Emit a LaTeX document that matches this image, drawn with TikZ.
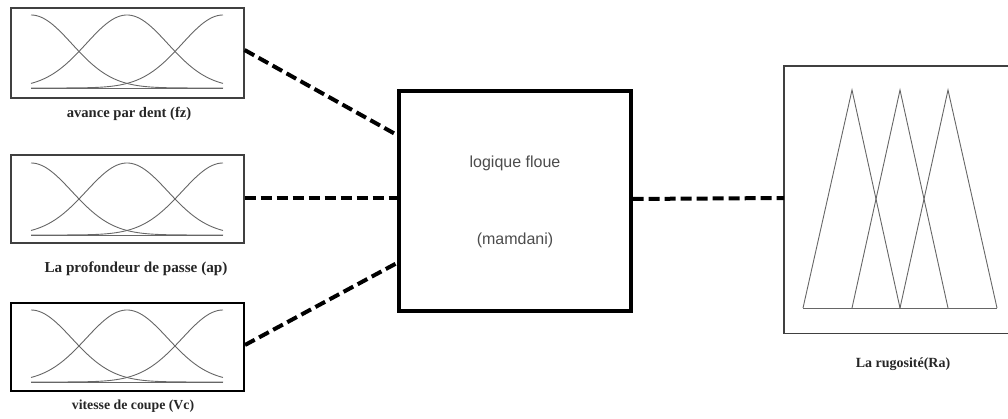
\documentclass[tikz,border=0pt]{standalone}
\usepackage{fontspec}
\setmainfont{Liberation Serif}
\setsansfont{Liberation Sans}
\usetikzlibrary{calc}

\tikzset{
  mfbox/.style={draw=black!75, line width=1.6pt, anchor=north west, inner sep=0pt},
  corebox/.style={draw=black, line width=3.6pt, anchor=north west, inner sep=0pt},
  mfcurve/.style={draw=black!60, line width=0.9pt},
  frameline/.style={draw=black!75, line width=1.6pt},
  link/.style={draw=black, line width=4pt, dash pattern=on 11pt off 5pt},
  caption/.style={font=\bfseries, text=black!85},
  coretext/.style={font=\sffamily\fontsize{16}{18}\selectfont, text=black!70}
}

% three gaussian membership functions inside a box: top y, baseline y
\newcommand{\gaussset}[2]{%
  \draw[mfcurve] (31,#2) -- (223,#2);
  \foreach \c in {31,127,223}{
    \draw[mfcurve] plot[smooth, domain=31:223, samples=70]
      (\x, {#2 - (#2-#1)*exp(-(((\x-\c)/100)^2)/0.333)});
  }%
}

\begin{document}
\begin{tikzpicture}[x=1pt, y=-1pt]
  \useasboundingbox (0,0) rectangle (1008,419);

  % input variables
  \node[mfbox, minimum width=233pt, minimum height=90pt] (fz) at (10,7) {};
  \node[mfbox, minimum width=233pt, minimum height=88pt] (ap) at (10,154) {};
  \node[mfbox, draw=black, line width=2pt, minimum width=233pt, minimum height=88pt] (vc) at (10,302) {};
  \gaussset{15}{88}
  \gaussset{163}{235}
  \gaussset{310}{382}

  \node[caption, font=\bfseries\fontsize{14.6}{16}\selectfont] (lfz) at (129,114) {avance par dent (fz)};
  \node[caption, font=\bfseries\fontsize{15.2}{17}\selectfont] (lap) at (136,269) {La profondeur de passe (ap)};
  \node[caption, font=\bfseries\fontsize{13.8}{16}\selectfont] (lvc) at (133,406) {vitesse de coupe (Vc)};

  % inference block
  \node[corebox, minimum width=232pt, minimum height=220pt] (fis) at (397,89) {};
  \node[coretext] (t1) at (515,163) {logique floue};
  \node[coretext] (t2) at (515,240) {(mamdani)};

  % output variable: frame runs off the right edge
  \node[anchor=north west, inner sep=0pt, minimum width=240pt, minimum height=267pt] (ra) at (784,66) {};
  \draw[frameline] (ra.north east) -- (ra.north west) -- (ra.south west) -- (ra.south east);
  \draw[mfcurve] (803,308) -- (997,308);
  \draw[mfcurve] (803,308) -- (852,90) -- (900,308);
  \draw[mfcurve] (852,308) -- (900,90) -- (948,308);
  \draw[mfcurve] (900,308) -- (948,90) -- (997,308);
  \node[caption, font=\bfseries\fontsize{14}{16}\selectfont] (lra) at (903,364) {La rugosité(Ra)};

  % connections
  \draw[link] ([yshift=-43pt]fz.north east) -- ([yshift=-46pt]fis.north west);
  \draw[link] ([yshift=-44pt]ap.north east) -- ([yshift=-109pt]fis.north west);
  \draw[link] ([yshift=-43pt]vc.north east) -- ([yshift=-174pt]fis.north west);
  \draw[link] ([yshift=-110pt]fis.north east) -- ([yshift=-132pt]ra.north west);
\end{tikzpicture}
\end{document}
